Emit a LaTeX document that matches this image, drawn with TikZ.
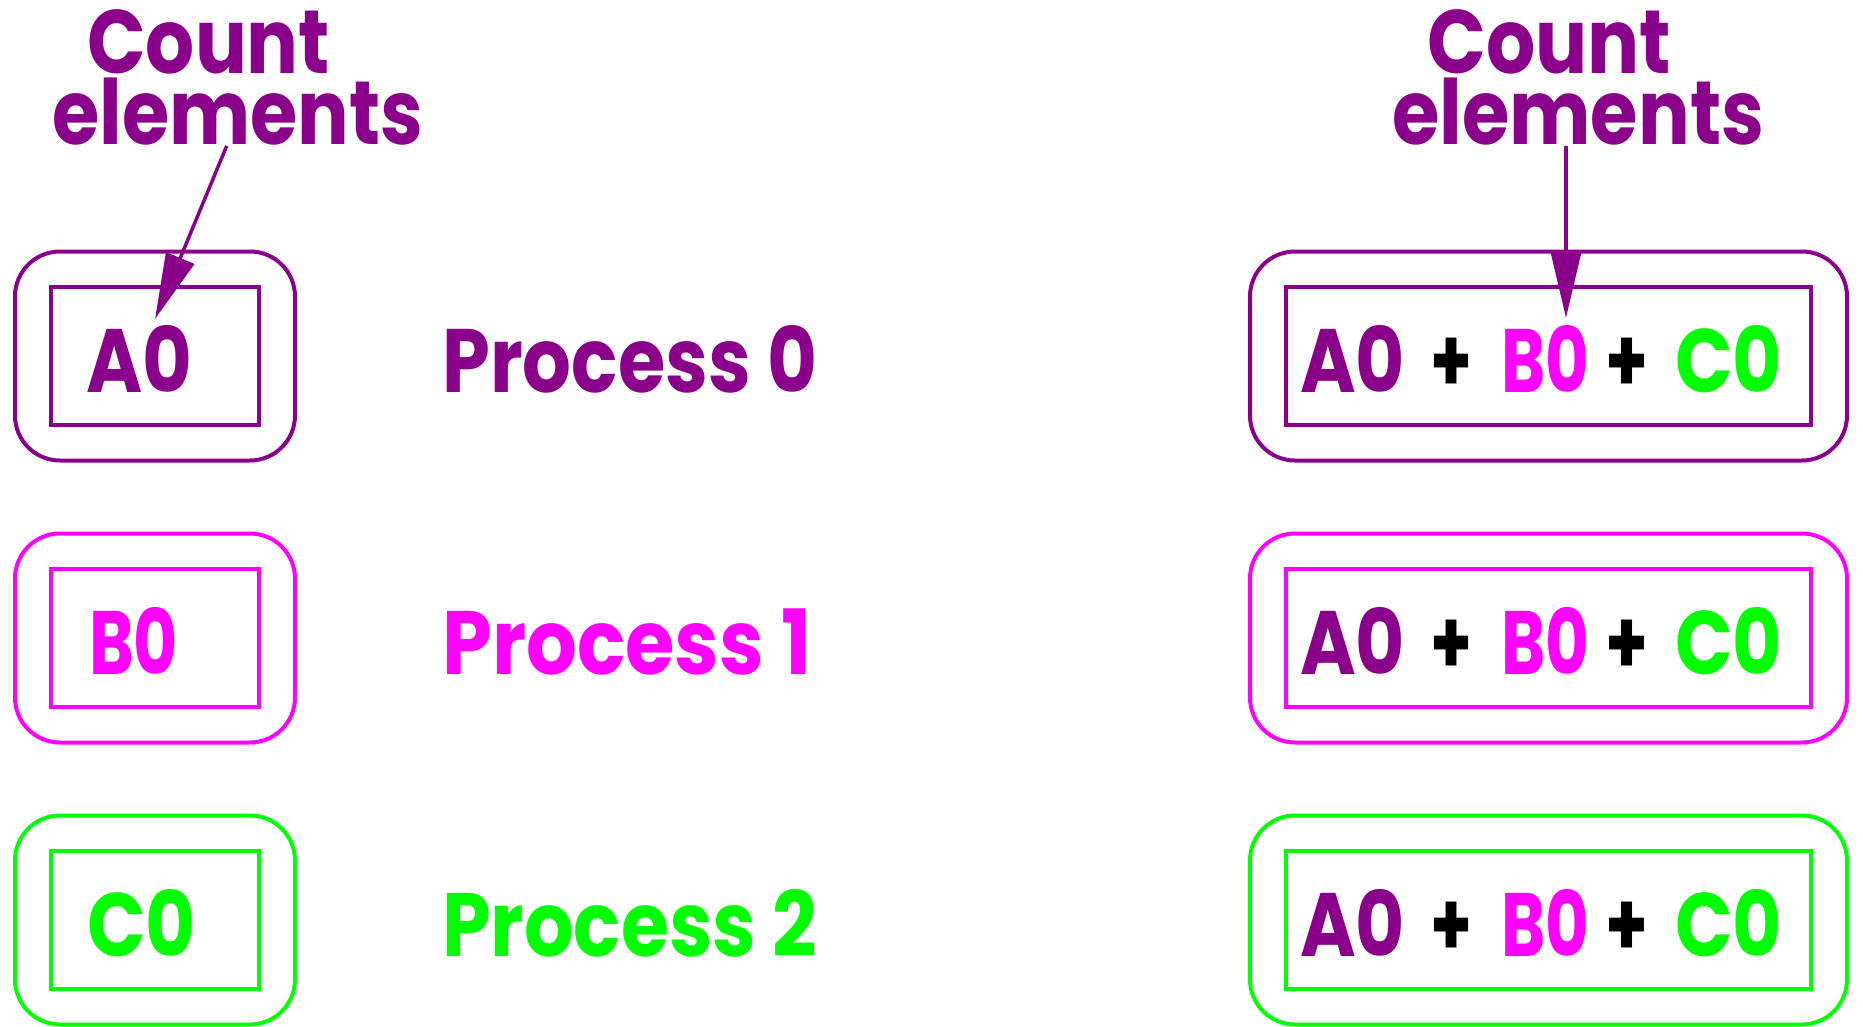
\documentclass[tikz,border=0pt]{standalone}
\usepackage{fontspec}
\setmainfont{Poppins}
\usetikzlibrary{arrows.meta}
\definecolor{cpur}{HTML}{8B008B}
\definecolor{cmag}{HTML}{FF00FF}
\definecolor{cgrn}{HTML}{00FF00}
\newlength\fitwd
\newcommand\fitto[2]{\settowidth\fitwd{#2}\pgfmathsetmacro\fitr{#1/\fitwd}\scalebox{\fitr}[1]{#2}}
\begin{document}
\begin{tikzpicture}[x=1pt,y=-1pt,
  outerbox/.style={draw, line width=4pt, rounded corners=45pt, minimum width=280pt, minimum height=209pt, inner sep=0pt},
  innerbox/.style={draw, line width=4pt, minimum width=208pt, minimum height=138pt, inner sep=0pt},
  lbl/.style={inner sep=0pt, anchor=base west, font=\fontsize{90}{90}\selectfont\bfseries},
  arr/.style={draw=cpur, fill=cpur, line width=3.5pt, -{Triangle[length=66pt,width=30pt]}}]
\useasboundingbox (0,0) rectangle (1863,1027);

% left column and process labels
\foreach \i/\c/\t/\tx/\tw/\pw in {0/cpur/A0/86/106/375, 1/cmag/B0/89/89/369, 2/cgrn/C0/87/109/375} {
  \pgfmathsetmacro\yy{356+282*\i}
  \pgfmathsetmacro\yb{392+282*\i}
  \node[outerbox, draw=\c] (lo\i) at (155,\yy) {};
  \node[innerbox, draw=\c] (li\i) at (155,\yy) {};
  \node[lbl, text=\c] (lt\i) at (\tx,\yb) {\fitto{\tw}{\t}};
  \node[lbl, text=\c] (pr\i) at (442,\yb) {\fitto{\pw}{Process \i}};
  % right column
  \node[outerbox, draw=\c, minimum width=597pt] (ro\i) at (1548.5,\yy) {};
  \node[innerbox, draw=\c, minimum width=525pt] (ri\i) at (1548.5,\yy) {};
  \node[lbl, text=cpur] (ra\i) at (1300,\yb) {\fitto{105}{A0}};
  \node[lbl, text=black] (rp\i) at (1430,\yb) {\fitto{42}{+}};
  \node[lbl, text=cmag] (rb\i) at (1501,\yb) {\fitto{88}{B0}};
  \node[lbl, text=black] (rq\i) at (1605,\yb) {\fitto{43}{+}};
  \node[lbl, text=cgrn] (rc\i) at (1675,\yb) {\fitto{107}{C0}};
}

% count labels
\node[lbl, text=cpur] (cl1) at (87,74) {\fitto{243}{Count}};
\node[lbl, text=cpur] (cl2) at (52,145) {\fitto{371}{elements}};
\node[lbl, text=cpur] (cr1) at (1427,74) {\fitto{244}{Count}};
\node[lbl, text=cpur] (cr2) at (1392,145) {\fitto{372}{elements}};

\coordinate (tl) at (155,319);
\coordinate (tr) at (1566,318);
\draw[arr] ([xshift=-11pt]cl2.south) -- (tl);
\draw[arr] (tr |- cr2.south) -- (tr);
\end{tikzpicture}
\end{document}
